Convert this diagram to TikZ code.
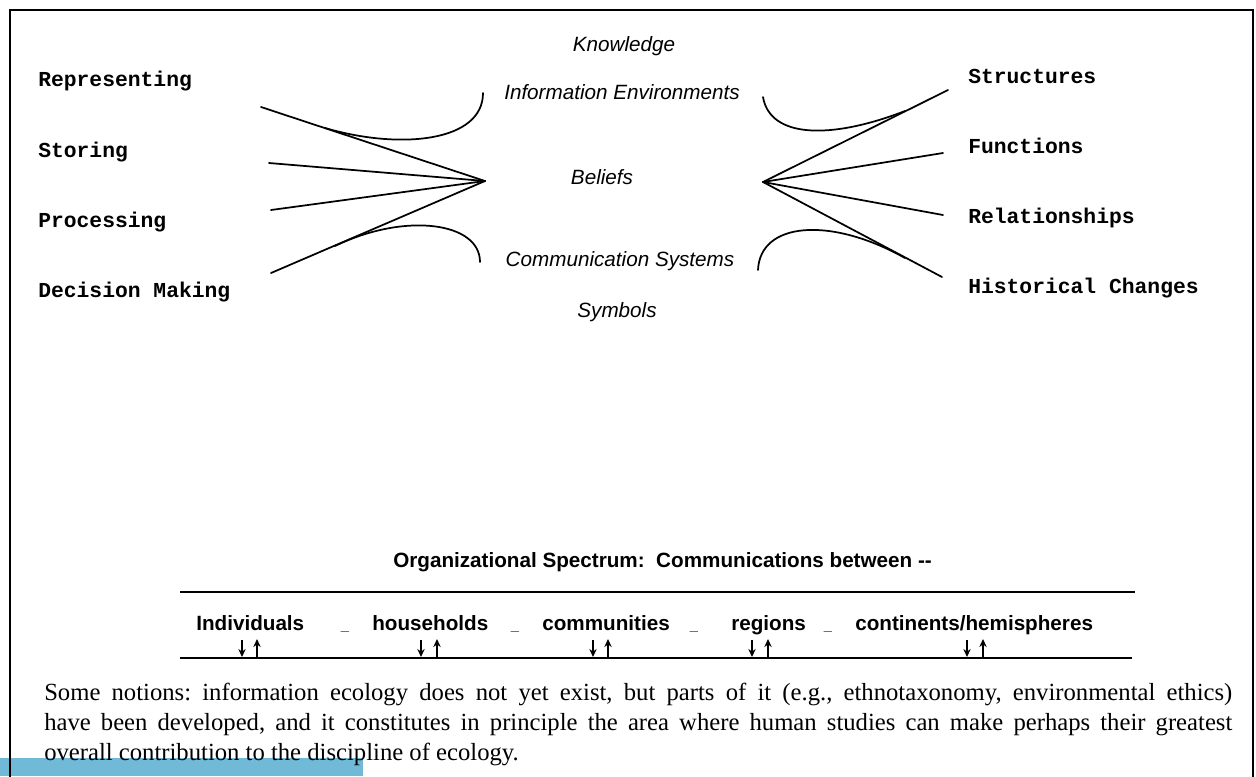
\documentclass[tikz,border=0pt]{standalone}
\usepackage{fontspec}
\setmainfont{Liberation Serif}
\newfontfamily\monof{Liberation Mono}
\newfontfamily\sansf{Liberation Sans}
\usetikzlibrary{arrows.meta}
\definecolor{barblue}{RGB}{112,186,216}
\tikzset{
  monolabel/.style={font=\monof\bfseries\fontsize{16}{19}\selectfont, anchor=base west, inner sep=0pt},
  centerlabel/.style={font=\sansf\itshape\fontsize{15.5}{18}\selectfont, anchor=base, inner sep=0pt},
  rowlabel/.style={font=\sansf\bfseries\fontsize{15.5}{18}\selectfont, anchor=base west, inner sep=0pt},
  sepmark/.style={font=\sansf\bfseries\fontsize{11}{12}\selectfont, anchor=base, inner sep=0pt},
  fan/.style={line width=1.3pt, line cap=round},
  rulebar/.style={line width=1.7pt},
  updown/.style={line width=1.2pt, -{Stealth[length=6pt,width=5.5pt]}},
}
\begin{document}
\frenchspacing
\begin{tikzpicture}[x=0.75pt,y=-0.75pt]
\useasboundingbox (0,0) rectangle (1256,776);
% blue bar and frame
\fill[barblue] (0,758) rectangle (363,776);
\draw[line width=1.6pt] (10,780) -- (10,10) -- (1253,10) -- (1253,780);

% left labels
\node[monolabel] (rep) at (38,86) {Representing};
\node[monolabel] (sto) at (38,157) {Storing};
\node[monolabel] (pro) at (38,227) {Processing};
\node[monolabel] (dec) at (38,297) {Decision Making};

% right labels
\node[monolabel] (str) at (968,83) {Structures};
\node[monolabel] (fun) at (968,153) {Functions};
\node[monolabel] (rel) at (968,223) {Relationships};
\node[monolabel] (his) at (968,293) {Historical Changes};

% center labels
\node[centerlabel] (know) at (624,51) {Knowledge};
\node[centerlabel] (infenv) at (622,99) {Information Environments};
\node[centerlabel] (bel) at (602,184) {Beliefs};
\node[centerlabel] (comsys) at (620,266) {Communication Systems};
\node[centerlabel] (sym) at (617,317) {Symbols};

% left fan
\coordinate (L) at (485,181);
\coordinate (la) at (261,107);
\coordinate (lb) at (269,163);
\coordinate (lc) at (271,210);
\coordinate (ld) at (271,273);
\draw[fan] (la) -- (L);
\draw[fan] (lb) -- (L);
\draw[fan] (lc) -- (L);
\draw[fan] (ld) -- (L);
\coordinate (lu0) at (483,93);
\coordinate (lu1) at (325,128);
\draw[fan] (lu0) .. controls (483,142) and (400,150) .. (lu1);
\coordinate (ll0) at (480,262);
\coordinate (ll1) at (335,246);
\draw[fan] (ll0) .. controls (480,222) and (405,212) .. (ll1);

% right fan
\coordinate (R) at (763,182);
\coordinate (ra) at (948,90);
\coordinate (rb) at (943,153);
\coordinate (rc) at (943,215);
\coordinate (rd) at (942,277);
\draw[fan] (R) -- (ra);
\draw[fan] (R) -- (rb);
\draw[fan] (R) -- (rc);
\draw[fan] (R) -- (rd);
\coordinate (ru0) at (763,97);
\coordinate (ru1) at (905,111);
\draw[fan] (ru0) .. controls (770,138) and (830,140) .. (ru1);
\coordinate (rl0) at (758,270);
\coordinate (rl1) at (905,258);
\draw[fan] (rl0) .. controls (760,222) and (830,216) .. (rl1);

% organizational spectrum
\node[font=\sansf\bfseries\fontsize{15.5}{18}\selectfont, anchor=base west, inner sep=0pt] (title) at (393,567) {Organizational Spectrum:\ \ Communications between --};
\coordinate (t0) at (180,592);
\coordinate (t1) at (1135,592);
\draw[rulebar] (t0) -- (t1);
\coordinate (b0) at (180,658);
\coordinate (b1) at (1132,658);
\draw[rulebar] (b0) -- (b1);

\node[rowlabel] (ind) at (196,630) {Individuals};
\node[rowlabel] (hou) at (372,630) {households};
\node[rowlabel] (com) at (542,630) {communities};
\node[rowlabel] (reg) at (731,630) {regions};
\node[rowlabel] (con) at (855,630) {continents/hemispheres};
\node[sepmark] (s1) at (345,630) {\_};
\node[sepmark] (s2) at (515,630) {\_};
\node[sepmark] (s3) at (694,630) {\_};
\node[sepmark] (s4) at (828,630) {\_};

% arrows
\foreach \xd/\xu [count=\i] in {242/257, 421/437, 593/608, 752/768, 967/983}{
  \coordinate (dtop\i) at (\xd,640);
  \coordinate (dbot\i) at (\xd,657);
  \coordinate (ubot\i) at (\xu,657);
  \coordinate (utop\i) at (\xu,639);
  \draw[updown] (dtop\i) -- (dbot\i);
  \draw[updown] (ubot\i) -- (utop\i);
}

% paragraph
\node[anchor=north west, inner sep=0pt, text width=891pt, align=justify,
      font=\fontsize{18.5}{22.5}\selectfont] (para) at (44,683)
  {Some notions: information ecology does not yet exist, but parts of it (e.g., ethnotaxonomy, environmental ethics)\linebreak
   have been developed, and it constitutes in principle the area where human studies can make perhaps their greatest\linebreak
   overall contribution to the discipline of ecology.};
\end{tikzpicture}
\end{document}
